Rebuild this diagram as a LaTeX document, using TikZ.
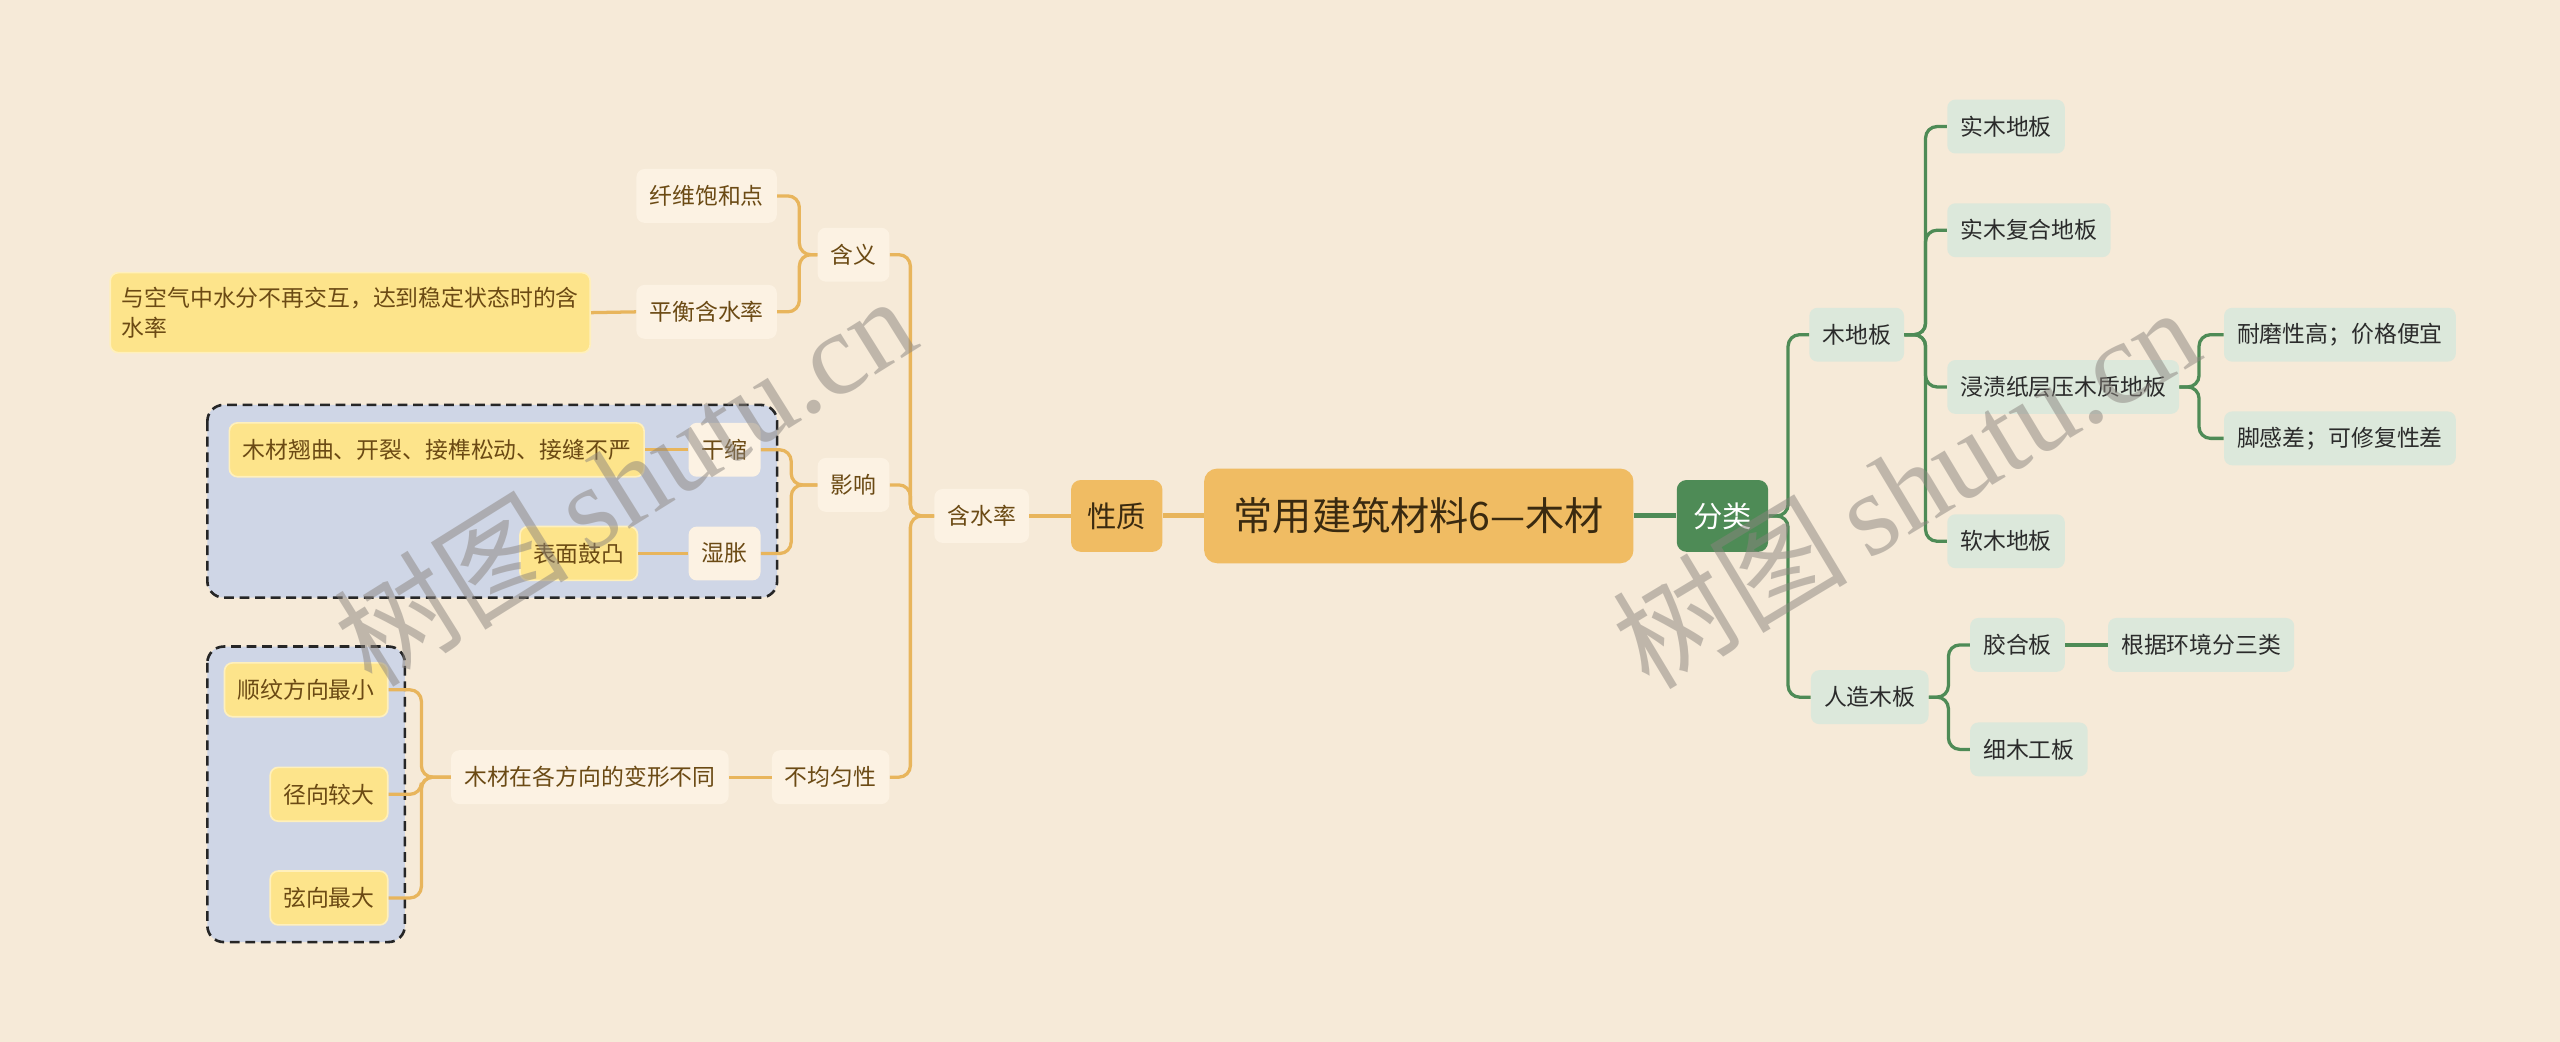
\documentclass[tikz,border=0pt]{standalone}
\usepackage{fontspec}
\newfontfamily\cjk{Noto Sans CJK SC}
\newfontfamily\wmserif{Liberation Serif}
\definecolor{bgc}{HTML}{F6EAD8}
\definecolor{orangeL}{HTML}{E8B55C}
\definecolor{creamN}{HTML}{FCF2E3}
\definecolor{yellowF}{HTML}{FDE48B}
\definecolor{yellowB}{HTML}{FFF0BC}
\definecolor{groupF}{HTML}{CFD6E6}
\definecolor{mainF}{HTML}{F0BC63}
\definecolor{greenL}{HTML}{4E8B56}
\definecolor{mintN}{HTML}{DCE8DB}
\definecolor{brownT}{HTML}{6B4A14}
\definecolor{darkT}{HTML}{2B2B2B}
\definecolor{mainT}{HTML}{3A2A10}
\definecolor{wmc}{HTML}{8A847E}
\begin{document}
\begin{tikzpicture}[x=1pt,y=-1pt,
  base/.style={font=\cjk\fontsize{14}{17}\selectfont, rounded corners=5pt, inner xsep=8pt, inner ysep=0pt, minimum height=33pt},
  onode/.style={base, fill=creamN, text=brownT},
  ynode/.style={base, fill=yellowF, draw=yellowB, line width=1pt, text=brownT},
  gnode/.style={base, fill=mintN, text=darkT},
  oline/.style={draw=orangeL, line width=2pt, rounded corners=7pt},
  gline/.style={draw=greenL, line width=2pt, rounded corners=7pt},
  grp/.style={draw=black!85, fill=groupF, dashed, dash pattern=on 6pt off 3.5pt, line width=1.6pt, rounded corners=10pt},
  wm/.style={text=wmc, opacity=0.5, anchor=base, inner sep=0pt}
]
\fill[bgc] (0,0) rectangle (1568,638);
\useasboundingbox (0,0) rectangle (1568,638);

% dashed groups
\path[grp] (127,248) rectangle (476,366);
\path[grp] (127,396) rectangle (248,577);

% nodes
\node[rounded corners=8pt, fill=mainF, text=mainT, font=\cjk\fontsize{24}{28}\selectfont, minimum width=263pt, minimum height=58pt, inner sep=0pt] (root) at (869,316) {常用建筑材料6—木材};
\node[rounded corners=6pt, fill=mainF, text=mainT, font=\cjk\fontsize{18}{22}\selectfont, minimum width=56pt, minimum height=44pt, inner sep=0pt] (xz) at (684,316) {性质};
\node[rounded corners=6pt, fill=greenL, text=white, font=\cjk\fontsize{18}{22}\selectfont, minimum width=56pt, minimum height=44pt, inner sep=0pt] (fl) at (1055,316) {分类};

% left side
\node[onode, anchor=east] (hsl) at (630.5,316) {含水率};
\node[onode, anchor=east] (hy) at (545,156) {含义};
\node[onode, anchor=east] (yx) at (545,297) {影响};
\node[onode, anchor=east] (bjy) at (545,476) {不均匀性};
\node[onode, anchor=east] (xw) at (476,120) {纤维饱和点};
\node[onode, anchor=east] (ph) at (476,191) {平衡含水率};
\node[ynode, anchor=east, align=left, font=\cjk\fontsize{14}{18.5}\selectfont, inner xsep=7pt, minimum height=49pt] (def) at (362,191.5) {与空气中水分不再交互，达到稳定状态时的含\\水率};
\node[onode, anchor=east] (gs) at (466,275.5) {干缩};
\node[onode, anchor=east] (sz) at (466,339) {湿胀};
\node[ynode, anchor=east] (qq) at (395,275.5) {木材翘曲、开裂、接榫松动、接缝不严};
\node[ynode, anchor=east] (gt) at (391,339) {表面鼓凸};
\node[onode, anchor=east] (bx) at (446.5,476) {木材在各方向的变形不同};
\node[ynode, anchor=east] (sw) at (238,422.5) {顺纹方向最小};
\node[ynode, anchor=east] (jx) at (238,486.5) {径向较大};
\node[ynode, anchor=east] (xx) at (238,550) {弦向最大};

% right side
\node[gnode, anchor=west] (mdb) at (1108,205) {木地板};
\node[gnode, anchor=west] (rz) at (1109,427) {人造木板};
\node[gnode, anchor=west] (sm) at (1192.5,77.5) {实木地板};
\node[gnode, anchor=west] (smf) at (1192.5,141) {实木复合地板};
\node[gnode, anchor=west] (jz) at (1192.5,237) {浸渍纸层压木质地板};
\node[gnode, anchor=west] (rm) at (1192.5,331.5) {软木地板};
\node[gnode, anchor=west] (nm) at (1362,205) {耐磨性高；价格便宜};
\node[gnode, anchor=west] (jg) at (1362,268.5) {脚感差；可修复性差};
\node[gnode, anchor=west] (jh) at (1206.5,395) {胶合板};
\node[gnode, anchor=west] (xm) at (1206.5,459) {细木工板};
\node[gnode, anchor=west] (gj) at (1291,395) {根据环境分三类};

% connectors
\draw[draw=orangeL, line width=3pt] (root.west) -- (xz.east);
\draw[draw=greenL, line width=3pt] (root.east) -- (fl.west);
\draw[oline] (xz.west) -- (hsl.east);
\foreach \c in {hy,yx,bjy} \draw[oline] (hsl.west) -- ++(-14.5,0) |- (\c.east);
\foreach \c in {xw,ph} \draw[oline] (hy.west) -- ++(-11,0) |- (\c.east);
\draw[oline] (ph.west) -- (def.east);
\foreach \c in {gs,sz} \draw[oline] (yx.west) -- ++(-16,0) |- (\c.east);
\draw[oline] (gs.west) -- (qq.east);
\draw[oline] (sz.west) -- (gt.east);
\draw[oline] (bjy.west) -- (bx.east);
\foreach \c in {sw,jx,xx} \draw[oline] (bx.west) -- ++(-18,0) |- (\c.east);

\foreach \c in {mdb,rz} \draw[gline] (fl.east) -- ++(12,0) |- (\c.west);
\foreach \c in {sm,smf,jz,rm} \draw[gline] (mdb.east) -- ++(13,0) |- (\c.west);
\foreach \c in {nm,jg} \draw[gline] (jz.east) -- ++(12,0) |- (\c.west);
\foreach \c in {jh,xm} \draw[gline] (rz.east) -- ++(12,0) |- (\c.west);
\draw[gline] (jh.east) -- (gj.west);

% watermarks
\node[wm, rotate=32] (wm1) at (397,317) {\fontsize{72}{80}\cjk 树图\,\wmserif shutu.cn};
\node[wm, rotate=31] (wm2) at (1181,321) {\fontsize{72}{80}\cjk 树图\,\wmserif shutu.cn};
\end{tikzpicture}
\end{document}
